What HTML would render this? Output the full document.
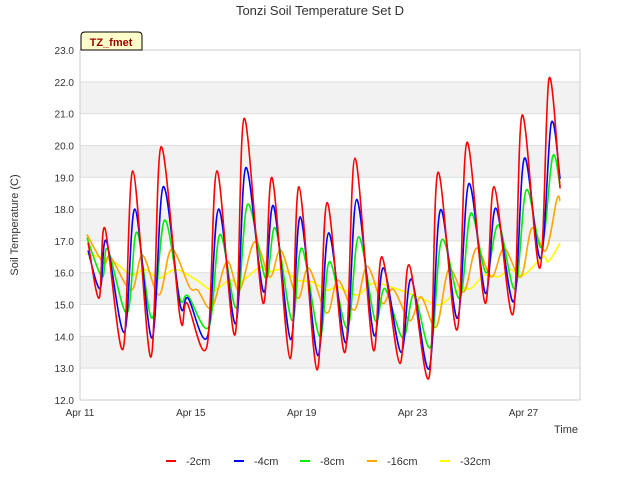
<!DOCTYPE html>
<html><head><meta charset="utf-8"><style>
body{margin:0;background:#fff;font-family:"Liberation Sans",sans-serif}
</style></head><body>
<svg width="640" height="480" xmlns="http://www.w3.org/2000/svg" font-family="Liberation Sans, sans-serif">
<g id="bands"></g><g id="grid"></g>
<rect x="80" y="50" width="500" height="350" fill="none" stroke="#ccc"/>
<g id="series"></g><g id="ticks"></g>
<text x="320" y="15" text-anchor="middle" font-size="13" fill="#333">Tonzi Soil Temperature Set D</text>
<text transform="translate(18,225) rotate(-90)" text-anchor="middle" font-size="11" fill="#333">Soil Temperature (C)</text>
<text x="566" y="433" text-anchor="middle" font-size="11" fill="#333">Time</text>
<g><path d="M81,50 L81,36 Q81,32 85,32 L138,32 Q142,32 142,36 L142,50 Z" fill="#ffffcc" stroke="#000"/><text x="111" y="46" text-anchor="middle" font-size="11" font-weight="bold" fill="#990000">TZ_fmet</text></g>
<g id="legend"></g>
</svg>
<script>
const tickDays=[0,4,8,12,16];
const tickLabels=["Apr 11","Apr 15","Apr 19","Apr 23","Apr 27"];
const yTicks=[12,13,14,15,16,17,18,19,20,21,22,23];
const seriesNames=["-2cm","-4cm","-8cm","-16cm","-32cm"];
const seriesColors=["#ff0000","#0000ff","#00ee00","#ffa500","#ffff00"];
const tRed=[0.29,0.69,0.90,1.55,1.91,2.56,2.92,3.61,3.86,4.58,4.94,5.59,5.92,6.60,6.93,7.58,7.90,8.55,8.91,9.56,9.92,10.57,10.89,11.54,11.87,12.59,12.91,13.60,13.96,14.61,14.94,15.62,15.95,16.59,16.92,17.32];
const vRed=[16.95,15.2,17.4,13.6,19.2,13.35,19.95,14.6,15.05,13.7,19.2,14.05,20.85,15.05,18.98,13.3,18.7,12.95,18.2,13.5,19.6,13.6,16.5,13.15,16.25,12.7,19.15,14.2,20.1,15.05,18.7,14.7,20.95,16.15,22.1,18.65];
const tBlue=[0.29,0.72,0.95,1.6,1.98,2.6,3.0,3.61,3.9,4.6,5.0,5.62,5.98,6.62,6.98,7.6,7.95,8.58,8.97,9.6,9.98,10.6,10.95,11.58,11.95,12.6,13.0,13.62,14.03,14.63,15.0,15.65,16.03,16.62,17.0,17.32];
const vBlue=[16.7,15.5,17.0,14.13,18.0,13.95,18.7,15.0,15.2,14.0,18.0,14.4,19.3,15.4,18.1,13.9,17.75,13.4,17.25,13.8,18.3,14.05,16.15,13.5,15.8,13.0,17.97,14.57,18.8,15.35,18.03,15.1,19.6,16.45,20.7,18.95];
const tGreen=[0.25,0.8,1.0,1.7,2.05,2.6,3.05,3.6,3.9,4.65,5.05,5.65,6.05,6.7,7.05,7.65,8.0,8.65,9.0,9.65,10.05,10.65,11.0,11.65,12.05,12.65,13.05,13.7,14.1,14.65,15.1,15.7,16.1,16.65,17.05,17.32];
const vGreen=[17.1,15.87,16.74,14.73,17.28,14.57,17.65,15.2,15.27,14.3,17.2,14.9,18.15,15.83,17.4,14.5,16.77,14.0,16.35,14.26,17.13,14.5,15.5,13.95,15.3,13.67,17.03,15.2,17.87,16.0,17.5,15.5,18.6,16.8,19.65,18.7];
const tOrange=[0.25,0.85,1.1,1.85,2.25,2.85,3.3,3.95,4.25,4.75,5.3,5.75,6.3,6.85,7.25,7.85,8.25,8.9,9.3,9.9,10.35,10.9,11.3,11.9,12.3,12.85,13.3,13.85,14.3,14.85,15.3,15.9,16.3,16.8,17.2,17.32];
const vOrange=[17.2,16.3,16.5,15.45,16.55,15.3,16.74,15.55,15.45,14.9,16.35,15.45,16.97,15.87,16.7,15.2,16.15,14.73,15.77,14.83,16.2,15.05,15.48,14.5,15.24,14.3,16.1,15.4,16.77,15.87,16.77,15.87,17.4,16.7,18.3,18.25];
const tYellow=[0.2,0.9,1.3,1.85,2.35,2.85,3.45,4.2,4.8,5.4,5.75,6.45,6.8,7.3,7.85,8.4,8.9,9.3,10.0,10.6,11.55,12.3,13.0,13.7,14.1,14.6,15.1,15.5,16.0,16.7,16.9,17.32];
const vYellow=[16.6,16.45,16.3,15.93,16.1,15.83,16.1,15.77,15.45,15.77,15.67,16.15,16.03,16.1,15.77,15.7,15.45,15.55,15.3,15.67,15.45,15.2,15.0,15.5,15.5,15.93,15.87,16.1,15.93,16.5,16.35,16.93];
const NS="http://www.w3.org/2000/svg";
const X=d=>80+d*27.72, Y=v=>50+(23-v)*350/11;
function mk(tag,attrs,parent){const e=document.createElementNS(NS,tag);for(const k in attrs)e.setAttribute(k,attrs[k]);parent.appendChild(e);return e;}
const bands=document.getElementById('bands'),grid=document.getElementById('grid'),ticks=document.getElementById('ticks');
[13,15,17,19,21].forEach(v=>{const r=mk('rect',{x:80,y:Y(v+1),width:500,height:Y(v)-Y(v+1),fill:'#f2f2f2'},bands);

});
yTicks.forEach(v=>{const l=mk('line',{x1:80,x2:580,y1:Y(v),y2:Y(v),stroke:'#ddd'},grid);


const t=mk('text',{x:74,y:Y(v)+4,'text-anchor':'end','font-size':10,fill:'#333'},ticks);t.textContent=v.toFixed(1);

});
tickDays.forEach((d,i)=>{const t=mk('text',{x:X(d),y:416,'text-anchor':'middle','font-size':10,fill:'#333'},ticks);t.textContent=tickLabels[i];

});
function path(ts,vs){const p=ts.map((t,i)=>[X(t),Y(vs[i])]);let d='M'+p[0][0]+','+p[0][1];
for(let i=0;i<p.length-1;i++){const p0=p[Math.max(0,i-1)],p1=p[i],p2=p[i+1],p3=p[Math.min(p.length-1,i+2)];
const c1=[p1[0]+(p2[0]-p0[0])/6,p1[1]+(p2[1]-p0[1])/6],c2=[p2[0]-(p3[0]-p1[0])/6,p2[1]-(p3[1]-p1[1])/6];
d+=` C${c1[0].toFixed(1)},${c1[1].toFixed(1)} ${c2[0].toFixed(1)},${c2[1].toFixed(1)} ${p2[0].toFixed(1)},${p2[1].toFixed(1)}`;}return d;}
const all=[[tRed,vRed],[tBlue,vBlue],[tGreen,vGreen],[tOrange,vOrange],[tYellow,vYellow]];
const sg=document.getElementById('series');
for(let i=4;i>=0;i--){const e=mk('path',{d:path(all[i][0],all[i][1]),fill:'none',stroke:seriesColors[i],'stroke-width':1.6},sg);

}
const lg=document.getElementById('legend');const lx=[166,234,300,367,440];
seriesNames.forEach((n,i)=>{const g=mk('g',{},lg);


mk('line',{x1:lx[i],x2:lx[i]+10,y1:461,y2:461,stroke:seriesColors[i],'stroke-width':2},g);
const t=mk('text',{x:lx[i]+20,y:465,'font-size':11,fill:'#333'},g);t.textContent=n;});
</script>
</body></html>
